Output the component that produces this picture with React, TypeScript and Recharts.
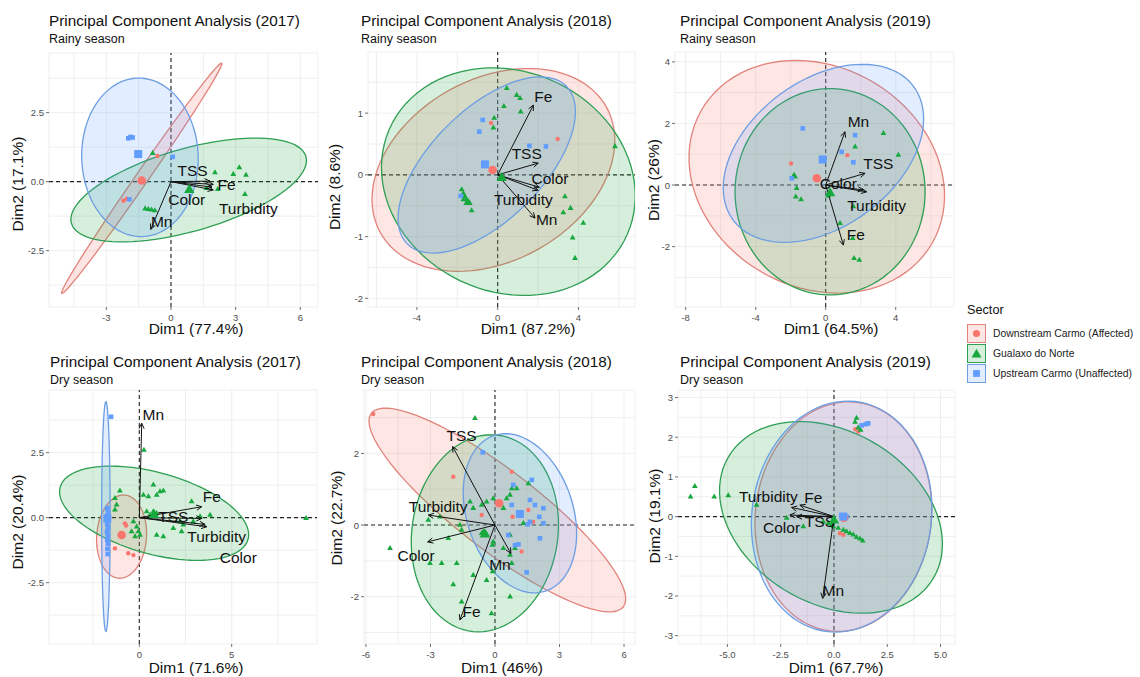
import React from 'react';
import { ScatterChart, Scatter, XAxis, YAxis, CartesianGrid, ReferenceLine } from 'recharts';

type Pt = [number, number];
// centre x, centre y, first semi-axis (dx, dy), second semi-axis (dx, dy), in data units
type Ell = [number, number, number, number, number, number];

const FONT = '"Liberation Sans", Arial, Helvetica, sans-serif';

const sectors = ['Downstream Carmo (Affected)', 'Gualaxo do Norte', 'Upstream Carmo (Unaffected)'];
const pointColours = ['#F8766D', '#17A83E', '#619CFF'];
const edgeColours = ['#E2837B', '#2E9E52', '#6D9EE2'];

// ---------- 2017, rainy season ----------
const rain17Downstream: Pt[] = [[-0.63, 0.93], [-2.21, -0.69], [-2.05, -0.62]];
const rain17Gualaxo: Pt[] = [
  [-0.85, 1.03], [2.04, 0.33], [2.89, 0.27], [3.17, 0.51], [3.48, 0.24], [3.43, -0.46], [2.17, -0.28],
  [1.65, -0.24], [-1.2, -0.98], [-1.05, -1.0], [-0.9, -1.02], [-0.75, -1.05],
];
const rain17Upstream: Pt[] = [[-1.98, 1.57], [-1.78, 1.6], [-1.88, 1.62], [0.08, 0.9], [-1.93, -0.64]];
const rain17Means: Pt[] = [[-1.36, 0.04], [0.85, -0.3], [-1.52, 1.0]];
const rain17Ellipses: Ell[] = [
  [-1.36, 0.12, 3.71, 4.17, 0.24, -0.13],
  [0.82, -0.3, 5.44, 1.21, 0.52, -1.44],
  [-1.44, 0.88, -0.15, 2.87, 2.7, 0.1],
];
const rain17Vars = ['TSS', 'Fe', 'Turbidity', 'Color', 'Mn'];
const rain17Tips: Pt[] = [[1.81, 0.02], [1.96, -0.1], [1.96, -0.3], [1.9, -0.2], [-0.94, -1.73]];
const rain17LabelAt: Pt[] = [[1.0, 0.42], [2.58, -0.12], [3.59, -0.97], [0.73, -0.64], [-0.43, -1.43]];

// ---------- 2018, rainy season ----------
const rain18Downstream: Pt[] = [[-0.33, 0.84], [2.97, 0.58]];
const rain18Gualaxo: Pt[] = [
  [0.45, 1.4], [0.94, 1.29], [1.11, 1.24], [0.31, 1.11], [1.14, 1.02], [-0.17, 0.92], [-0.21, 0.76],
  [3.33, -0.35], [3.25, -0.61], [3.61, -0.54], [4.24, -0.78], [3.71, -1.02], [3.83, -1.35], [5.81, 0.46],
  [-1.78, -0.24], [-1.7, -0.3], [-1.62, -0.35], [-1.55, -0.4], [-1.45, -0.43], [-1.7, -0.4],
  [-1.55, -0.46], [-1.38, -0.46], [-1.29, -0.58],
];
const rain18Upstream: Pt[] = [[-0.74, 0.89], [-0.91, 0.7], [1.57, 0.47], [2.39, 0.46], [-1.83, -0.34]];
const rain18Means: Pt[] = [[-0.25, 0.08], [0.2, -0.05], [-0.63, 0.17]];
const rain18Ellipses: Ell[] = [
  [-0.21, 0.08, 5.78, 0.89, -1.65, 1.38],
  [0.53, -0.11, 6.27, -0.11, -0.41, 1.84],
  [-0.54, 0.16, 3.96, 1.27, -1.9, 0.65],
];
const rain18Vars = ['Fe', 'TSS', 'Color', 'Turbidity', 'Mn'];
const rain18Tips: Pt[] = [[1.77, 1.13], [2.01, 0.19], [2.06, -0.2], [2.0, -0.25], [1.85, -0.7]];
const rain18LabelAt: Pt[] = [[2.26, 1.27], [1.44, 0.34], [2.59, -0.06], [1.27, -0.4], [2.43, -0.73]];

// ---------- 2019, rainy season ----------
const rain19Downstream: Pt[] = [[-1.98, 0.7], [1.24, 0.97]];
const rain19Gualaxo: Pt[] = [
  [3.3, 1.68], [4.15, 0.97], [1.68, 1.24], [-1.81, 0.32], [-1.75, 0.27], [-1.66, -0.11], [-1.71, -0.38],
  [-1.41, -0.47], [0.82, -1.24], [1.54, -1.73], [1.62, -2.38], [1.92, -2.44], [1.58, -0.7], [0.15, -0.35],
];
const rain19Upstream: Pt[] = [[-1.31, 1.84], [1.68, 1.62], [0.91, 1.08], [1.58, 0.74], [-1.94, 0.22]];
const rain19Means: Pt[] = [[-0.51, 0.22], [0.25, -0.27], [-0.17, 0.83]];
const rain19Ellipses: Ell[] = [
  [-0.51, 0.27, 6.59, -2.16, -3.14, -3.1],
  [0.25, -0.22, 5.43, 0, 0, 3.35],
  [-0.13, 1.03, 5.52, 1.79, -1.52, 2.27],
];
const rain19Vars = ['Mn', 'TSS', 'Color', 'Turbidity', 'Fe'];
const rain19Tips: Pt[] = [[1.1, 1.73], [2.25, 0.38], [2.15, -0.16], [2.34, -0.22], [1.01, -1.95]];
const rain19LabelAt: Pt[] = [[1.87, 2.06], [3.01, 0.7], [0.72, 0.05], [2.91, -0.65], [1.72, -1.62]];

// ---------- 2017, dry season ----------
const dry17Downstream: Pt[] = [[-0.78, -0.22], [-1.32, -1.18], [-0.6, -1.37], [-0.32, -1.44], [-0.72, -0.3]];
const dry17Gualaxo: Pt[] = [
  [0.25, 2.6], [0.76, 1.26], [0.22, 0.87], [0.49, 0.81], [0.94, 0.87], [1.12, 1.0], [1.3, 1.03],
  [-1.05, 1.03], [-1.32, 0.74], [-1.23, 0.49], [-1.32, 0.3], [2.83, 0.62], [3.83, 0.1], [3.29, 0.04],
  [0.4, 0.23], [0.76, 0.23], [0.94, 0.17], [-0.32, -0.15], [-0.14, -0.35], [-0.05, -0.54], [0.04, -0.67],
  [0.94, -0.67], [1.3, -0.73], [1.84, -0.41], [2.29, -0.54], [2.38, -0.28], [2.92, -0.15], [9.03, -0.03],
  [-0.42, -0.54], [-0.23, -0.73], [2.2, -0.15], [0.58, 0.1],
];
const dry17Upstream: Pt[] = [
  [-1.74, 0.36], [-1.7, 0.2], [-1.75, 0.05], [-1.7, -0.1], [-1.74, -0.25], [-1.7, -0.4], [-1.75, -0.55],
  [-1.71, -0.7], [-1.74, -0.85], [-1.7, -1.0], [-1.73, -1.2], [-1.71, -1.4], [-1.53, 3.88],
];
const dry17Means: Pt[] = [[-0.96, -0.67], [0.8, 0.1], [-1.73, -0.03]];
const dry17Ellipses: Ell[] = [
  [-0.96, -0.73, 0.1, 1.6, 1.35, 0],
  [0.8, 0.17, 5.1, -0.68, -0.45, 1.68],
  [-1.81, 0.04, 0, 4.42, 0.23, 0],
];
const dry17Vars = ['Mn', 'Fe', 'TSS', 'Turbidity', 'Color'];
const dry17Tips: Pt[] = [[0.13, 3.63], [3.38, 0.42], [3.38, -0.03], [3.56, -0.26], [3.65, -0.35]];
const dry17LabelAt: Pt[] = [[0.76, 3.95], [3.92, 0.81], [1.84, 0.04], [4.19, -0.73], [5.36, -1.54]];

// ---------- 2018, dry season ----------
const dry18Downstream: Pt[] = [
  [-5.66, 3.1], [-1.94, 1.35], [0.78, 1.49], [0.82, 0.23], [1.55, 0.42], [1.78, 0.09], [-0.62, 0.28], [1.24, -0.74],
];
const dry18Gualaxo: Pt[] = [
  [-0.93, 2.98], [-4.88, -0.65], [-3.1, 0.14], [-2.56, 0.23], [-2.17, -0.37], [-3.02, -1.07], [-2.48, -1.07],
  [-1.78, -1.07], [-1.94, -1.66], [-1.55, -2.14], [-1.01, -1.4], [-0.39, -1.54], [-0.11, -1.3], [-0.16, -2.47],
  [0.7, -2.0], [-1.63, 0], [-1.55, -0.14], [-0.62, -0.23], [-0.54, -0.19], [-0.39, -0.26], [-1.16, 0.65],
  [-1.01, 0.47], [-0.62, 0.56], [-0.39, 0.65], [-0.08, 0.74], [0.39, 0.47], [0.54, 0.74], [0.7, 0.84],
  [1.01, 1.02], [0.78, 1.02], [1.55, 1.16], [-0.08, -0.47], [0.39, -0.65], [0.7, -0.28], [0.93, -0.65],
  [1.32, 0.05], [0.7, -0.84], [0.78, -1.07], [-0.12, -0.56],
];
const dry18Upstream: Pt[] = [
  [-0.57, 2.03], [0.85, 1.12], [1.71, 1.26], [1.63, 0.7], [1.86, 0.56], [2.25, 0.47], [2.06, 0.23], [1.63, 0.09],
  [1.52, 0.02], [2.25, 0.05], [2.09, -0.37], [0.93, -0.56], [1.09, -0.54], [0.62, -0.28], [1.47, -1.32], [0.78, 0.56],
];
const dry18Means: Pt[] = [[0.19, 0.61], [-0.47, -0.26], [1.16, 0.31]];
const dry18Ellipses: Ell[] = [
  [0.11, 0.42, 5.86, -2.7, 1.13, 0.89],
  [-0.47, -0.23, 0.3, 2.75, 3.41, 0],
  [1.16, 0.33, 1.09, -2.19, 2.4, 0.37],
];
const dry18Vars = ['TSS', 'Turbidity', 'Color', 'Mn', 'Fe'];
const dry18Tips: Pt[] = [[-1.97, 2.19], [-3.1, 0.28], [-3.13, -0.47], [0.74, -0.79], [-1.63, -2.65]];
const dry18LabelAt: Pt[] = [[-1.55, 2.5], [-2.64, 0.51], [-3.67, -0.84], [0.23, -1.1], [-1.09, -2.42]];

// ---------- 2019, dry season ----------
const dry19Downstream: Pt[] = [[1.14, 2.14], [0.28, -0.42], [0.44, -0.46], [1.0, 2.2]];
const dry19Gualaxo: Pt[] = [
  [-6.53, 0.76], [-6.73, 0.5], [-5.62, 0.5], [-4.96, 0.53], [-3.63, 0.29], [-2.22, -0.04], [-1.44, -0.25],
  [1.06, 2.48], [0.99, 2.38], [1.14, 2.24], [1.25, 2.18], [-0.5, -0.13], [-0.27, -0.17], [-0.03, -0.25],
  [0.2, -0.29], [0.44, -0.34], [0.59, -0.38], [0.75, -0.42], [0.91, -0.46], [1.06, -0.52], [1.22, -0.56],
  [1.35, -0.61], [-0.11, -0.21],
];
const dry19Upstream: Pt[] = [[1.61, 2.35], [1.5, 2.33], [1.3, 2.3], [0.59, 0.0], [0.35, 0.03]];
const dry19Means: Pt[] = [[0.47, -0.03], [0.0, -0.1], [0.44, 0.0]];
const dry19Ellipses: Ell[] = [
  [0.44, 0, 0.63, 2.88, 4.1, -0.27],
  [-0.14, -0.02, 5.21, -0.46, -0.47, 2.37],
  [0.36, 0, 0.63, 2.9, 4.19, -0.24],
];
const dry19Vars = ['Turbidity', 'Fe', 'Color', 'TSS', 'Mn'];
const dry19Tips: Pt[] = [[-1.99, 0.23], [-1.6, 0.29], [-2.07, 0.04], [-1.75, 0], [-0.53, -2.06]];
const dry19LabelAt: Pt[] = [[-3.08, 0.5], [-0.97, 0.49], [-2.46, -0.28], [-0.66, -0.13], [-0.03, -1.85]];

interface PanelSpec {
  title: string;
  season: string;
  xTitle: string;
  yTitle: string;
  groups: Pt[][];
  means: Pt[];
  ellipses: Ell[];
  vars: string[];
  tips: Pt[];
  labelAt: Pt[];
  xMajor: number[];
  yMajor: number[];
  xDec: number;
  yDec: number;
  xDomain: [number, number];
  yDomain: [number, number];
  // layout
  box: { left: number; top: number; width: number; height: number };
  titleX: number;
  row: number;
  xTitleX: number;
  yTitleX: number;
  yTitleY: number;
}

const panels: PanelSpec[] = [
  {
    title: 'Principal Component Analysis (2017)', season: 'Rainy season',
    xTitle: 'Dim1 (77.4%)', yTitle: 'Dim2 (17.1%)',
    groups: [rain17Downstream, rain17Gualaxo, rain17Upstream], means: rain17Means, ellipses: rain17Ellipses,
    vars: rain17Vars, tips: rain17Tips, labelAt: rain17LabelAt,
    xMajor: [-3, 0, 3, 6], yMajor: [-2.5, 0, 2.5], xDec: 0, yDec: 1,
    xDomain: [-5.66, 6.82], yDomain: [-4.54, 4.66],
    box: { left: 49, top: 53, width: 269, height: 254 }, titleX: 49, row: 0, xTitleX: 196, yTitleX: 18, yTitleY: 184,
  },
  {
    title: 'Principal Component Analysis (2018)', season: 'Rainy season',
    xTitle: 'Dim1 (87.2%)', yTitle: 'Dim2 (8.6%)',
    groups: [rain18Downstream, rain18Gualaxo, rain18Upstream], means: rain18Means, ellipses: rain18Ellipses,
    vars: rain18Vars, tips: rain18Tips, labelAt: rain18LabelAt,
    xMajor: [-4, 0, 4], yMajor: [-2, -1, 0, 1], xDec: 0, yDec: 0,
    xDomain: [-6.42, 6.8], yDomain: [-2.14, 1.99],
    box: { left: 368, top: 52, width: 267, height: 255 }, titleX: 361, row: 0, xTitleX: 528, yTitleX: 335, yTitleY: 187,
  },
  {
    title: 'Principal Component Analysis (2019)', season: 'Rainy season',
    xTitle: 'Dim1 (64.5%)', yTitle: 'Dim2 (26%)',
    groups: [rain19Downstream, rain19Gualaxo, rain19Upstream], means: rain19Means, ellipses: rain19Ellipses,
    vars: rain19Vars, tips: rain19Tips, labelAt: rain19LabelAt,
    xMajor: [-8, -4, 0, 4], yMajor: [-2, 0, 2, 4], xDec: 0, yDec: 0,
    xDomain: [-8.61, 7.33], yDomain: [-3.96, 4.32],
    box: { left: 675, top: 52, width: 279, height: 255 }, titleX: 680, row: 0, xTitleX: 831, yTitleX: 654, yTitleY: 180,
  },
  {
    title: 'Principal Component Analysis (2017)', season: 'Dry season',
    xTitle: 'Dim1 (71.6%)', yTitle: 'Dim2 (20.4%)',
    groups: [dry17Downstream, dry17Gualaxo, dry17Upstream], means: dry17Means, ellipses: dry17Ellipses,
    vars: dry17Vars, tips: dry17Tips, labelAt: dry17LabelAt,
    xMajor: [0, 5], yMajor: [-2.5, 0, 2.5], xDec: 0, yDec: 1,
    xDomain: [-4.89, 9.62], yDomain: [-4.86, 4.91],
    box: { left: 49, top: 390, width: 268, height: 254 }, titleX: 50, row: 1, xTitleX: 196, yTitleX: 18, yTitleY: 522,
  },
  {
    title: 'Principal Component Analysis (2018)', season: 'Dry season',
    xTitle: 'Dim1 (46%)', yTitle: 'Dim2 (22.7%)',
    groups: [dry18Downstream, dry18Gualaxo, dry18Upstream], means: dry18Means, ellipses: dry18Ellipses,
    vars: dry18Vars, tips: dry18Tips, labelAt: dry18LabelAt,
    xMajor: [-6, -3, 0, 3, 6], yMajor: [-2, 0, 2], xDec: 0, yDec: 0,
    xDomain: [-6.09, 6.51], yDomain: [-3.32, 3.77],
    box: { left: 364, top: 390, width: 271, height: 254 }, titleX: 361, row: 1, xTitleX: 502, yTitleX: 337, yTitleY: 518,
  },
  {
    title: 'Principal Component Analysis (2019)', season: 'Dry season',
    xTitle: 'Dim1 (67.7%)', yTitle: 'Dim2 (19.1%)',
    groups: [dry19Downstream, dry19Gualaxo, dry19Upstream], means: dry19Means, ellipses: dry19Ellipses,
    vars: dry19Vars, tips: dry19Tips, labelAt: dry19LabelAt,
    xMajor: [-5, -2.5, 0, 2.5, 5], yMajor: [-3, -2, -1, 0, 1, 2, 3], xDec: 1, yDec: 0,
    xDomain: [-7.32, 5.68], yDomain: [-3.21, 3.19],
    box: { left: 678, top: 390, width: 277, height: 254 }, titleX: 680, row: 1, xTitleX: 836, yTitleX: 655, yTitleY: 516,
  },
];

// major breaks plus the ggplot-style minor breaks half way between them
const gridBreaks = (major: number[], [lo, hi]: [number, number]) => {
  const step = major.length > 1 ? major[1] - major[0] : 1;
  const out: number[] = [];
  for (let v = major[0] - step; v <= major[major.length - 1] + step + 1e-9; v += step / 2) {
    if (v >= lo && v <= hi) out.push(Number(v.toFixed(4)));
  }
  return out;
};

const ellipseOutline = (e: Ell) => {
  const [cx, cy, ux, uy, vx, vy] = e;
  const pts = [];
  for (let i = 0; i < 90; i++) {
    const t = (i / 90) * Math.PI * 2;
    pts.push({ x: cx + ux * Math.cos(t) + vx * Math.sin(t), y: cy + uy * Math.cos(t) + vy * Math.sin(t) });
  }
  return pts;
};

const Nothing = () => null;

const EllipsePath = (p: any) => {
  const { points, tone, edge } = p;
  if (!points || !points.length) return null;
  const d = points.map((q: any, i: number) => `${i ? 'L' : 'M'}${q.x},${q.y}`).join('') + 'Z';
  return <path d={d} fill={tone} fillOpacity={0.18} stroke={edge} strokeWidth={1.3} />;
};

const ArrowSet = (p: any) => {
  const { points } = p;
  if (!points) return null;
  const items = [];
  for (let i = 0; i + 1 < points.length; i += 2) {
    const a = points[i];
    const b = points[i + 1];
    const ang = Math.atan2(b.y - a.y, b.x - a.x);
    const len = 6;
    const w = Math.PI / 7;
    const h1 = `${b.x - len * Math.cos(ang - w)},${b.y - len * Math.sin(ang - w)}`;
    const h2 = `${b.x - len * Math.cos(ang + w)},${b.y - len * Math.sin(ang + w)}`;
    items.push(
      <g key={i}>
        <line x1={a.x} y1={a.y} x2={b.x} y2={b.y} />
        <polyline points={`${h1} ${b.x},${b.y} ${h2}`} fill="none" />
      </g>
    );
  }
  return <g stroke="#111" strokeWidth={1}>{items}</g>;
};

const Marker = (p: any) => {
  const { cx, cy, kind, s, tone } = p;
  if (cx == null || cy == null) return null;
  if (kind === 0) return <circle cx={cx} cy={cy} r={s} fill={tone} />;
  if (kind === 1) {
    const h = s * 1.732;
    return (
      <polygon
        points={`${cx},${cy - (h * 2) / 3} ${cx - s},${cy + h / 3} ${cx + s},${cy + h / 3}`}
        fill={tone}
      />
    );
  }
  return <rect x={cx - s} y={cy - s} width={2 * s} height={2 * s} fill={tone} />;
};

const VarLabel = (p: any) => {
  const { cx, cy, payload } = p;
  if (cx == null || !payload) return null;
  return (
    <text x={cx} y={cy} textAnchor="middle" dominantBaseline="central" fontSize={15.5} fontFamily={FONT} fill="#111">
      {payload.name}
    </text>
  );
};

const XTick = (p: any) => {
  const { x, y, payload, majors, dec } = p;
  if (!majors.includes(payload.value)) return null;
  return (
    <g>
      <line x1={x} y1={y} x2={x} y2={y + 3} stroke="#4D4D4D" strokeWidth={0.8} />
      <text x={x} y={y + 10} textAnchor="middle" dominantBaseline="central" fontSize={9.5} fontFamily={FONT} fill="#4D4D4D">
        {payload.value.toFixed(dec)}
      </text>
    </g>
  );
};

const YTick = (p: any) => {
  const { x, y, payload, majors, dec } = p;
  if (!majors.includes(payload.value)) return null;
  return (
    <g>
      <line x1={x - 3} y1={y} x2={x} y2={y} stroke="#4D4D4D" strokeWidth={0.8} />
      <text x={x - 5} y={y} textAnchor="end" dominantBaseline="central" fontSize={9.5} fontFamily={FONT} fill="#4D4D4D">
        {payload.value.toFixed(dec)}
      </text>
    </g>
  );
};

const kinds = [0, 1, 2];
const smallSize = [2.2, 2.9, 2.3];
const meanSize = [4.3, 5.2, 4];

function Panel({ spec }: { spec: PanelSpec }) {
  const { box } = spec;
  const titleY = spec.row === 0 ? 21 : 361.5;
  const seasonY = spec.row === 0 ? 38.5 : 380;
  const xTitleY = spec.row === 0 ? 329 : 668;
  const arrowData = spec.tips.flatMap((t) => [{ x: 0, y: 0 }, { x: t[0], y: t[1] }]);
  const labelData = spec.labelAt.map((l, i) => ({ x: l[0], y: l[1], name: spec.vars[i] }));
  const centred: React.CSSProperties = { position: 'absolute', lineHeight: 1, whiteSpace: 'nowrap', fontFamily: FONT };

  return (
    <>
      <div style={{ ...centred, left: spec.titleX, top: titleY, transform: 'translateY(-50%)', fontSize: 15.3, color: '#111' }}>
        {spec.title}
      </div>
      <div style={{ ...centred, left: spec.titleX, top: seasonY, transform: 'translateY(-50%)', fontSize: 12.5, color: '#111' }}>
        {spec.season}
      </div>
      <div style={{ ...centred, left: spec.xTitleX, top: xTitleY, transform: 'translate(-50%, -50%)', fontSize: 15.5, color: '#111' }}>
        {spec.xTitle}
      </div>
      <div
        style={{
          ...centred, left: spec.yTitleX, top: spec.yTitleY,
          transform: 'translate(-50%, -50%) rotate(-90deg)', fontSize: 15.5, color: '#111',
        }}
      >
        {spec.yTitle}
      </div>
      <div style={{ position: 'absolute', left: box.left - 60, top: box.top - 10 }}>
        <ScatterChart
          width={box.width + 70}
          height={box.height + 40}
          margin={{ top: 10, right: 10, bottom: 0, left: 0 }}
        >
          <CartesianGrid stroke="#EBEBEB" strokeWidth={0.8} />
          <XAxis
            type="number"
            dataKey="x"
            domain={spec.xDomain}
            allowDataOverflow
            ticks={gridBreaks(spec.xMajor, spec.xDomain)}
            interval={0}
            height={30}
            tickSize={0}
            tickMargin={0}
            axisLine={false}
            tickLine={false}
            tick={<XTick majors={spec.xMajor} dec={spec.xDec} />}
          />
          <YAxis
            type="number"
            dataKey="y"
            domain={spec.yDomain}
            allowDataOverflow
            ticks={gridBreaks(spec.yMajor, spec.yDomain)}
            interval={0}
            width={60}
            tickSize={0}
            tickMargin={0}
            axisLine={false}
            tickLine={false}
            tick={<YTick majors={spec.yMajor} dec={spec.yDec} />}
          />
          {spec.ellipses.map((e, i) => (
            <Scatter
              key={`ell-${i}`}
              data={ellipseOutline(e)}
              shape={<Nothing />}
              line={<EllipsePath tone={pointColours[i]} edge={edgeColours[i]} />}
              isAnimationActive={false}
            />
          ))}
          <ReferenceLine x={0} stroke="#222" strokeWidth={1.1} strokeDasharray="4 3" />
          <ReferenceLine y={0} stroke="#222" strokeWidth={1.1} strokeDasharray="4 3" />
          {spec.groups.map((g, i) => (
            <Scatter
              key={`pts-${i}`}
              name={sectors[i]}
              data={g.map((q) => ({ x: q[0], y: q[1] }))}
              shape={<Marker kind={kinds[i]} s={smallSize[i]} tone={pointColours[i]} />}
              isAnimationActive={false}
            />
          ))}
          <Scatter data={arrowData} shape={<Nothing />} line={<ArrowSet />} isAnimationActive={false} />
          <Scatter data={labelData} shape={<VarLabel />} isAnimationActive={false} />
          {spec.means.map((m, i) => (
            <Scatter
              key={`mean-${i}`}
              data={[{ x: m[0], y: m[1] }]}
              shape={<Marker kind={kinds[i]} s={meanSize[i]} tone={pointColours[i]} />}
              isAnimationActive={false}
            />
          ))}
        </ScatterChart>
      </div>
    </>
  );
}

function LegendKey({ i }: { i: number }) {
  return (
    <svg width={19} height={19} style={{ display: 'block' }}>
      <rect x={0.5} y={0.5} width={18} height={18} fill={pointColours[i]} fillOpacity={0.18} stroke={edgeColours[i]} />
      <Marker cx={9.5} cy={i === 1 ? 10.5 : 9.5} kind={kinds[i]} s={[3.6, 5, 3.4][i]} tone={pointColours[i]} />
    </svg>
  );
}

export default function App() {
  return (
    <div style={{ position: 'absolute', left: 0, top: 0, width: 1140, height: 677, background: '#fff', overflow: 'hidden' }}>
      {panels.map((p, i) => (
        <Panel key={i} spec={p} />
      ))}
      <div style={{ position: 'absolute', left: 967, top: 303, fontFamily: FONT }}>
        <div style={{ fontSize: 12.7, color: '#111', lineHeight: '14px', marginBottom: 6 }}>Sector</div>
        {sectors.map((s, i) => (
          <div key={s} style={{ display: 'flex', alignItems: 'center', height: 20 }}>
            <LegendKey i={i} />
            <span style={{ fontSize: 10.4, color: '#222', marginLeft: 7, whiteSpace: 'nowrap' }}>{s}</span>
          </div>
        ))}
      </div>
    </div>
  );
}
